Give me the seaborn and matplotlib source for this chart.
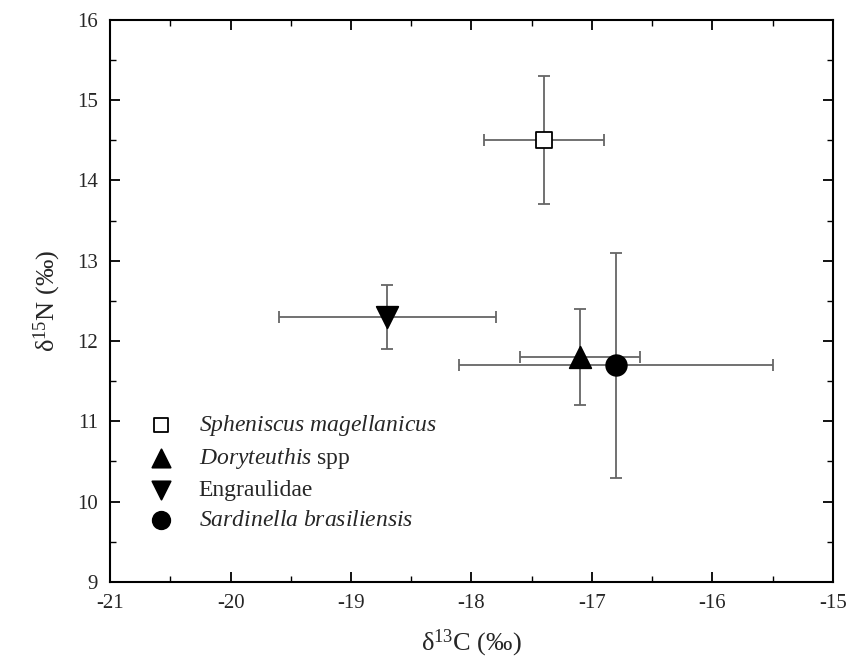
import matplotlib
matplotlib.use("Agg")
import matplotlib.pyplot as plt
import seaborn as sns
import pandas as pd
from matplotlib.ticker import MultipleLocator

# data
species = ["Spheniscus", "Doryteuthis", "Engraulidae", "Sardinella"]
labels = [r"$\it{Spheniscus\ magellanicus}$", r"$\it{Doryteuthis}$ spp",
          "Engraulidae", r"$\it{Sardinella\ brasiliensis}$"]
d13c = [-17.4, -17.1, -18.7, -16.8]
d13c_sd = [0.5, 0.5, 0.9, 1.3]
d15n = [14.5, 11.8, 12.3, 11.7]
d15n_sd = [0.8, 0.6, 0.4, 1.4]

df = pd.DataFrame({"species": species, "label": labels, "d13c": d13c,
                   "d13c_sd": d13c_sd, "d15n": d15n, "d15n_sd": d15n_sd})

sns.set_style("white")
plt.rcParams['font.family'] = ['Liberation Serif', 'DejaVu Serif']
plt.rcParams['mathtext.fontset'] = 'custom'
plt.rcParams['mathtext.rm'] = 'Liberation Serif'
plt.rcParams['mathtext.it'] = 'Liberation Serif:italic'
plt.rcParams['axes.unicode_minus'] = False

fig, ax = plt.subplots(figsize=(8.48, 6.59), dpi=100)
fig.subplots_adjust(left=0.13, right=0.982, top=0.97, bottom=0.117)

ax.errorbar(df["d13c"], df["d15n"], xerr=df["d13c_sd"], yerr=df["d15n_sd"],
            fmt="none", ecolor="#666666", elinewidth=1.3, capsize=4,
            capthick=1.3, zorder=1)

markers = {"Spheniscus": "s", "Doryteuthis": "^", "Engraulidae": "v", "Sardinella": "o"}
sizes = {"Spheniscus": 130, "Doryteuthis": 240, "Engraulidae": 240, "Sardinella": 220}
for _, row in df.iterrows():
    face = "white" if row["species"] == "Spheniscus" else "black"
    sns.scatterplot(x=[row["d13c"]], y=[row["d15n"]], marker=markers[row["species"]],
                    s=sizes[row["species"]], color=face, edgecolor="black",
                    linewidth=1.3, ax=ax, zorder=3, label=row["label"])

ax.set_xlim(-21, -15)
ax.set_ylim(9, 16)
ax.xaxis.set_major_locator(MultipleLocator(1))
ax.xaxis.set_minor_locator(MultipleLocator(0.5))
ax.yaxis.set_major_locator(MultipleLocator(1))
ax.yaxis.set_minor_locator(MultipleLocator(0.5))
ax.tick_params(which="both", direction="in", top=True, right=True,
               bottom=True, left=True,
               labeltop=False, labelright=False, color="black")
ax.tick_params(which="major", length=7, width=1.3, labelsize=15, pad=9)
ax.tick_params(which="minor", length=4, width=1.0)
for sp in ax.spines.values():
    sp.set_linewidth(1.5)
    sp.set_color("black")

ax.set_xlabel(r"δ$^{13}$C (‰)", fontsize=19, labelpad=10)
ax.set_ylabel(r"δ$^{15}$N (‰)", fontsize=19, labelpad=10)

leg = ax.legend(loc="lower left", bbox_to_anchor=(0.008, 0.053), frameon=False,
                fontsize=17, handletextpad=0.6, labelspacing=0.35,
                markerscale=0.85)

fig.savefig("out.png", dpi=100)
